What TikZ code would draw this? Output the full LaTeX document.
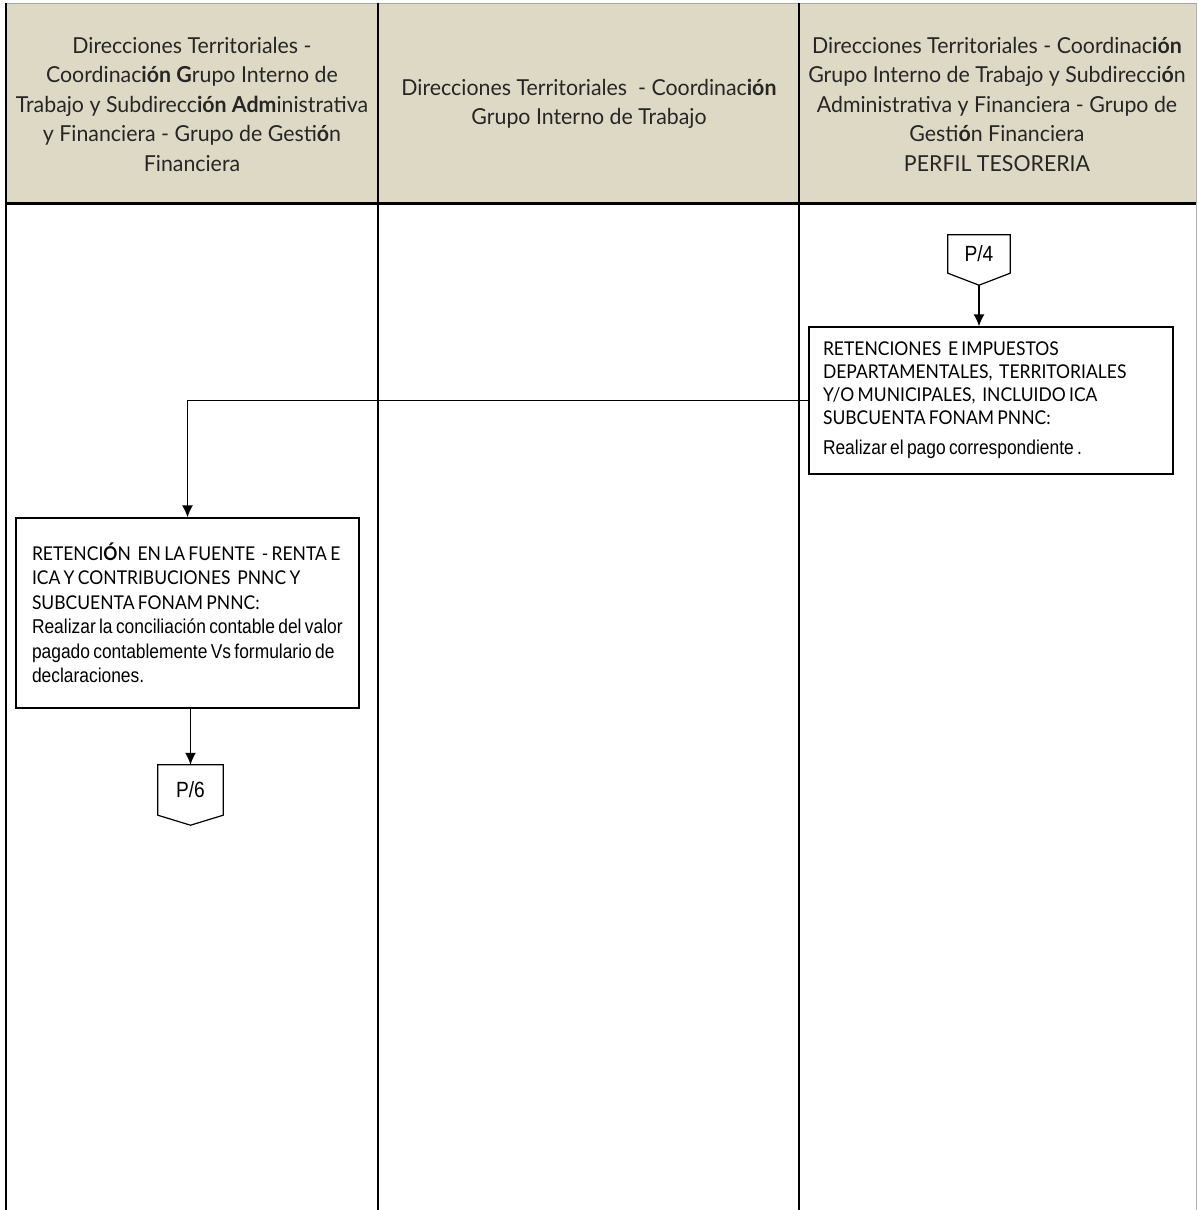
\documentclass[tikz,border=0pt]{standalone}
\usepackage{fontspec}
\setmainfont{Liberation Sans}
\newfontfamily\hdrfont{Lato}[FakeStretch=0.97]
\newfontfamily\capfont{Lato}[FakeStretch=0.92]
\newfontfamily\narrowfont{Liberation Sans}[FakeStretch=0.87]
\usetikzlibrary{arrows.meta}
\definecolor{headtan}{HTML}{DDD9C4}
\definecolor{headink}{HTML}{262626}
\tikzset{
  lane/.style={line width=1.4pt, black},
  hdrtext/.style={align=center, text=headink, font=\hdrfont\fontsize{22}{29.5}\selectfont, inner sep=0pt},
  actbox/.style={draw, line width=1.3pt, rectangle, inner sep=0pt, align=left},
  offpage/.style={inner sep=0pt, font=\narrowfont\fontsize{22}{24}\selectfont},
  arr/.style={line width=1.4pt, -{Latex[length=12pt,width=11pt]}}
}
\begin{document}
\begin{tikzpicture}[x=1pt,y=-1pt]
\useasboundingbox (0,0) rectangle (1197,1210);
% header band
\fill[headtan] (6,3) rectangle (1196,203);
\draw[gray!70, line width=0.8pt] (6,3) -- (1196,3);
\draw[gray!60, line width=0.8pt] (1196,3) -- (1196,1210);
% lane separators
\draw[lane] (6,3) -- (6,1210);
\draw[lane] (378,3) -- (378,1210);
\draw[lane] (799,3) -- (799,1210);
\draw[line width=3pt] (6,203) -- (1196,203);
% lane titles
\node[hdrtext] (h1) at (192,104) {Direcciones Territoriales -\\Coordinac\textbf{ión G}rupo Interno de\\Trabajo y Subdirecc\textbf{ión Adm}inistrativa\\y Financiera - Grupo de Gesti\textbf{ó}n\\Financiera};
\node[hdrtext] (h2) at (589,104) {Direcciones Territoriales \ - Coordinac\textbf{ión}\\Grupo Interno de Trabajo};
\node[hdrtext] (h3) at (997,104) {Direcciones Territoriales - Coordinac\textbf{ión}\\Grupo Interno de Trabajo y Subdirecci\textbf{ó}n\\Administrativa y Financiera - Grupo de\\Gesti\textbf{ó}n Financiera\\PERFIL TESORERIA};
% off-page connector P/4
\node[offpage, minimum width=62pt, minimum height=38pt] (p4) at (979,254) {P/4};
\draw[line width=1.2pt] (p4.north west) -- (p4.north east) -- (p4.south east) -- ([yshift=-12pt]p4.south) coordinate (p4tip) -- (p4.south west) -- cycle;
% activity boxes
\node[actbox, minimum width=364pt, minimum height=147pt, text width=336pt] (b1) at (991,400.5)
 {\capfont\fontsize{19}{23}\selectfont RETENCIONES\ \ E IMPUESTOS\\DEPARTAMENTALES,\ \ TERRITORIALES\\Y/O MUNICIPALES,\ \ INCLUIDO ICA\\SUBCUENTA FONAM PNNC:\\[7pt]\narrowfont\fontsize{20}{23}\selectfont Realizar el pago correspondiente .\par};
\node[actbox, minimum width=343pt, minimum height=190pt, text width=311pt] (b2) at (187.5,613)
 {\capfont\fontsize{19}{24.5}\selectfont RETENCI{\bfseries Ó}N\ \ EN LA FUENTE\ \ - RENTA E\\ICA Y CONTRIBUCIONES\ \ PNNC Y\\SUBCUENTA FONAM PNNC:\\\narrowfont\fontsize{20}{24.5}\selectfont Realizar la conciliación contable del valor\\pagado contablemente Vs formulario de\\declaraciones.\par};
% off-page connector P/6
\node[offpage, minimum width=65pt, minimum height=50pt] (p6) at (190.5,790) {P/6};
\draw[line width=1.2pt] (p6.north west) -- (p6.north east) -- (p6.south east) -- ([yshift=-10pt]p6.south) -- (p6.south west) -- cycle;
% connectors
\draw[arr] (p4tip) -- (p4tip |- b1.north);
\draw[arr] (b1.west) -| (b2.north);
\draw[arr] (b2.south -| p6.north) -- (p6.north);
\end{tikzpicture}
\end{document}
